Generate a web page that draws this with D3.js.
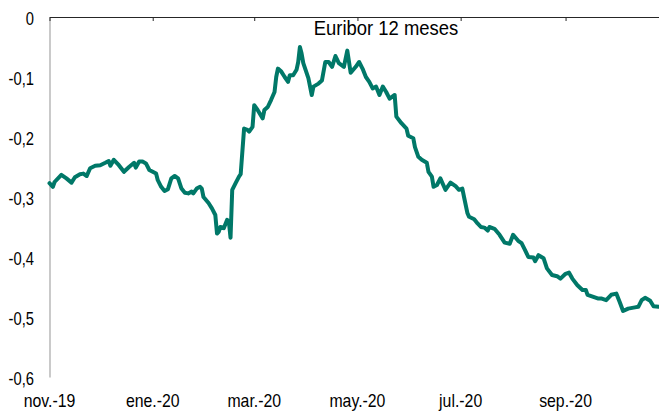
<!DOCTYPE html>
<html><head><meta charset="utf-8">
<script src="https://cdn.jsdelivr.net/npm/d3@7"></script>
<style>
html,body{margin:0;padding:0;background:#fff;}
svg{display:block;font-family:"Liberation Sans",Arial,sans-serif;}
</style></head>
<body>
<svg id="c" width="659" height="411"></svg>
<script>
const title = "Euribor 12 meses";
const dates = ["2019-11-01","2019-11-03","2019-11-04","2019-11-08","2019-11-11","2019-11-14","2019-11-16","2019-11-19","2019-11-21","2019-11-23","2019-11-25","2019-11-28",
"2019-12-01","2019-12-04","2019-12-06","2019-12-07","2019-12-09","2019-12-12","2019-12-15","2019-12-18","2019-12-21","2019-12-22","2019-12-24","2019-12-26","2019-12-28","2019-12-30",
"2020-01-01","2020-01-03","2020-01-04","2020-01-06","2020-01-08","2020-01-10","2020-01-12","2020-01-14","2020-01-16","2020-01-18","2020-01-20","2020-01-22","2020-01-24","2020-01-25","2020-01-27","2020-01-29","2020-01-30","2020-01-31",
"2020-02-03","2020-02-05","2020-02-07","2020-02-08","2020-02-09","2020-02-10","2020-02-12","2020-02-14","2020-02-15","2020-02-16","2020-02-17","2020-02-19","2020-02-21","2020-02-22","2020-02-24","2020-02-26","2020-02-27","2020-02-29",
"2020-03-01","2020-03-03","2020-03-06","2020-03-07","2020-03-09","2020-03-11","2020-03-13","2020-03-14","2020-03-15","2020-03-17","2020-03-19","2020-03-21","2020-03-22","2020-03-24","2020-03-26","2020-03-27","2020-03-28","2020-03-29","2020-03-30",
"2020-04-02","2020-04-04","2020-04-05","2020-04-08","2020-04-10","2020-04-12","2020-04-14","2020-04-16","2020-04-18","2020-04-20","2020-04-23","2020-04-25","2020-04-27","2020-04-30",
"2020-05-02","2020-05-04","2020-05-06","2020-05-08","2020-05-10","2020-05-12","2020-05-14","2020-05-16","2020-05-18","2020-05-20","2020-05-23","2020-05-24","2020-05-27","2020-05-30","2020-05-31",
"2020-06-03","2020-06-04","2020-06-06","2020-06-08","2020-06-11","2020-06-12","2020-06-14","2020-06-15","2020-06-17","2020-06-19","2020-06-22","2020-06-25","2020-06-28","2020-06-30",
"2020-07-02","2020-07-03","2020-07-05","2020-07-06","2020-07-09","2020-07-11","2020-07-13","2020-07-15","2020-07-17","2020-07-18","2020-07-21","2020-07-24","2020-07-27","2020-07-30",
"2020-08-01","2020-08-04","2020-08-06","2020-08-08","2020-08-10","2020-08-13","2020-08-14","2020-08-16","2020-08-19","2020-08-21","2020-08-24","2020-08-27","2020-08-29",
"2020-09-01","2020-09-03","2020-09-05","2020-09-08","2020-09-11","2020-09-13","2020-09-14","2020-09-17","2020-09-20","2020-09-22","2020-09-25","2020-09-28",
"2020-10-01","2020-10-03","2020-10-05","2020-10-08","2020-10-12","2020-10-14","2020-10-16","2020-10-18","2020-10-21","2020-10-23","2020-10-26"];
const values = [-0.277,-0.283,-0.275,-0.263,-0.269,-0.276,-0.267,-0.262,-0.261,-0.265,-0.252,-0.248,
-0.247,-0.243,-0.240,-0.248,-0.238,-0.247,-0.258,-0.250,-0.243,-0.251,-0.241,-0.241,-0.244,-0.255,
-0.258,-0.261,-0.272,-0.283,-0.290,-0.287,-0.269,-0.265,-0.269,-0.286,-0.293,-0.294,-0.291,-0.294,-0.286,-0.283,-0.286,-0.300,
-0.310,-0.319,-0.330,-0.361,-0.358,-0.350,-0.352,-0.338,-0.341,-0.368,-0.288,-0.277,-0.266,-0.262,-0.186,-0.188,-0.191,-0.183,
-0.147,-0.155,-0.169,-0.155,-0.150,-0.138,-0.125,-0.100,-0.086,-0.091,-0.100,-0.108,-0.097,-0.097,-0.088,-0.075,-0.050,-0.061,-0.077,
-0.102,-0.130,-0.116,-0.111,-0.106,-0.075,-0.075,-0.083,-0.065,-0.077,-0.083,-0.056,-0.093,-0.083,
-0.075,-0.086,-0.100,-0.108,-0.119,-0.116,-0.130,-0.116,-0.125,-0.136,-0.130,-0.166,-0.177,-0.186,-0.198,
-0.202,-0.217,-0.233,-0.238,-0.243,-0.258,-0.266,-0.283,-0.280,-0.269,-0.288,-0.276,-0.282,-0.288,
-0.286,-0.300,-0.327,-0.333,-0.337,-0.344,-0.350,-0.351,-0.356,-0.350,-0.353,-0.363,-0.376,-0.378,
-0.363,-0.373,-0.377,-0.388,-0.400,-0.401,-0.407,-0.397,-0.402,-0.419,-0.430,-0.432,-0.436,
-0.428,-0.426,-0.436,-0.447,-0.455,-0.455,-0.463,-0.466,-0.469,-0.469,-0.472,-0.463,
-0.461,-0.475,-0.490,-0.486,-0.484,-0.483,-0.472,-0.468,-0.473,-0.482,-0.483];
const xTickDates = ["2019-11-01","2020-01-01","2020-03-01","2020-05-01","2020-07-01","2020-09-01"];
const xTickLabels = ["nov.-19","ene.-20","mar.-20","may.-20","jul.-20","sep.-20"];
const yTicks = [0,-0.1,-0.2,-0.3,-0.4,-0.5,-0.6];

const parse = d3.utcParse("%Y-%m-%d");
const svg = d3.select("#c");
const x = d3.scaleUtc().domain([parse("2019-11-01"), parse("2020-10-27")]).range([49.5, 660.3]);
const y = d3.scaleLinear().domain([-0.6, 0]).range([377, 17]);
const loc = d3.formatLocale({decimal:",", thousands:".", grouping:[3], currency:["","€"], minus:"-"});
const fmt = loc.format("~g");

// y axis (gray)
svg.append("g").attr("transform","translate(49.5,0)")
  .call(d3.axisLeft(y).tickValues([]).tickSizeOuter(0))
  .call(g=>g.select(".domain").attr("stroke","#a6a6a6").attr("stroke-width",1.2));

// top x axis at 0 with ticks pointing down
svg.append("g").attr("transform","translate(0,17)")
  .call(d3.axisBottom(x).tickValues(xTickDates.map(parse)).tickSize(4).tickSizeOuter(0).tickFormat(""))
  .call(g=>{g.select(".domain").attr("stroke","#262626").attr("stroke-width",1.2);
           g.selectAll(".tick line").attr("stroke","#262626").attr("stroke-width",1);});

// y labels
svg.append("g").selectAll("text").data(yTicks).join("text")
  .attr("transform", d=>`translate(34,${y(d)+7.5}) scale(0.82,1)`)
  .attr("text-anchor","end").attr("font-size",18).attr("fill","#000")
  .text(d=>fmt(d));

// x labels
svg.append("g").selectAll("text").data(xTickDates).join("text")
  .attr("transform", (d)=>`translate(${x(parse(d))},406.5) scale(0.88,1)`)
  .attr("text-anchor","middle").attr("font-size",18).attr("fill","#000")
  .text((d,i)=>xTickLabels[i]);

// title
svg.append("text").attr("transform","translate(386,34.5) scale(0.9,1)")
  .attr("text-anchor","middle").attr("font-size",20.5).attr("fill","#000").text(title);

// line
const data = dates.map((d,i)=>({date:parse(d), v:values[i]}));
svg.append("path").datum(data)
  .attr("fill","none").attr("stroke","#007868").attr("stroke-width",4)
  .attr("stroke-linejoin","round").attr("stroke-linecap","round")
  .attr("d", d3.line().x(d=>x(d.date)).y(d=>y(d.v)));
</script>
</body></html>
